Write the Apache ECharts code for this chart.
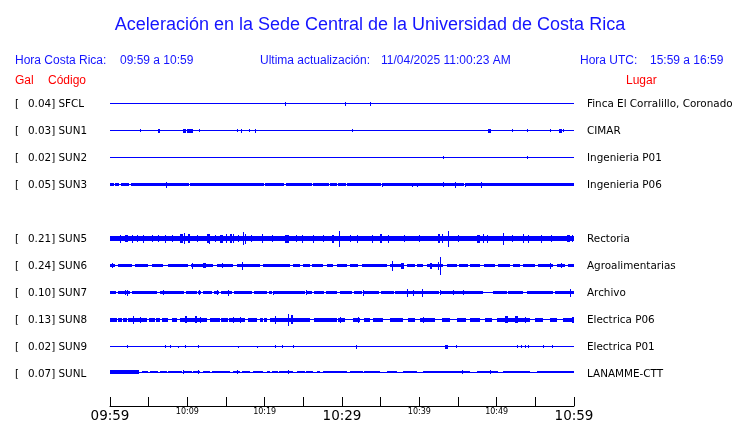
<!DOCTYPE html>
<html><head><meta charset="utf-8">
<script src="https://cdn.jsdelivr.net/npm/echarts@6/dist/echarts.min.js"></script>
<style>html,body{margin:0;padding:0;background:#fff}#c{width:740px;height:423px}</style>
</head><body><div id="c"></div>
<script>
// ---- data ----
const titleText = 'Aceleración en la Sede Central de la Universidad de Costa Rica';
const headerLabels = ['Hora Costa Rica:', 'Ultima actualización:', 'Hora UTC:'];
const headerValues = ['09:59 a 10:59', '11/04/2025 11:00:23 AM', '15:59 a 16:59'];
const tickLabels = ['09:59','10:04','10:09','10:14','10:19','10:24','10:29','10:34','10:39','10:44','10:49','10:54','10:59'];
const codes = ['SFCL','SUN1','SUN2','SUN3','SUN5','SUN6','SUN7','SUN8','SUN9','SUNL'];
const peaks = ['0.04','0.03','0.02','0.05','0.21','0.24','0.10','0.13','0.02','0.07'];
const places = ['Finca El Corralillo, Coronado','CIMAR','Ingenieria P01','Ingenieria P06','Rectoria','Agroalimentarias','Archivo','Electrica P06','Electrica P01','LANAMME-CTT'];
// background noise half-amplitude of each trace
const noise = [0.5,0.5,0.5,1.5,2.5,1.3,1.3,2,0.5,1.5];
// quiet stretches [start min, end min]
const sfclGaps = [];
const sun1Gaps = [];
const sun2Gaps = [];
const sun3Gaps = [[0.5,0.7],[1.2,1.4],[2.5,2.7],[10.2,10.4],[19.9,20.1],[22.5,22.7],[26.1,26.3],[28.3,28.5],[29.3,29.5],[30.5,30.7],[35.0,35.2],[39.0,39.2],[45.8,46.0]];
const sun5Gaps = [];
const sun6Gaps = [[0.6,1.0],[2.8,3.2],[4.9,5.4],[6.9,7.5],[10.1,10.5],[13.3,13.8],[15.9,16.4],[19.4,19.8],[23.3,23.7],[24.6,25.0],[25.9,26.1],[27.5,28.1],[28.8,29.4],[30.6,31.0],[32.1,32.6],[35.8,36.2],[37.9,38.4],[39.4,39.7],[40.5,41.0],[43.1,43.6],[44.9,45.1],[46.3,46.6],[47.8,48.4],[49.8,50.2],[51.7,52.1],[53.0,53.4],[55.0,55.4],[57.3,57.8],[58.8,59.2]];
const sun7Gaps = [[0.8,1.0],[2.6,2.9],[6.1,6.5],[9.6,9.8],[11.2,11.4],[11.8,12.0],[13.2,13.4],[14.1,14.3],[15.8,16.0],[18.4,18.6],[20.3,20.5],[20.9,21.2],[25.2,25.4],[26.1,26.4],[27.7,27.9],[29.3,29.8],[31.3,31.5],[32.6,32.8],[34.8,35.0],[36.7,36.9],[42.6,42.8],[45.6,45.8],[48.2,49.5],[51.3,51.5],[53.4,53.9],[57.3,57.6]];
const sun8Gaps = [[0.9,1.0],[1.6,1.7],[2.2,2.3],[3.9,4.0],[4.8,5.0],[5.8,5.9],[6.5,6.7],[7.5,8.0],[8.7,9.1],[12.5,12.9],[14.2,14.3],[15.3,15.4],[17.5,17.9],[19.0,19.4],[19.8,19.9],[20.3,20.7],[25.9,26.4],[29.3,29.5],[30.4,31.4],[32.3,32.9],[33.6,34.0],[35.3,36.2],[37.9,38.5],[39.4,40.1],[42.0,42.9],[44.0,44.9],[46.0,46.6],[47.8,48.5],[49.4,50.0],[54.3,55.0],[56.0,56.9],[57.8,58.6]];
const sun9Gaps = [];
const sunlGaps = [[3.6,4.1],[4.9,5.2],[6.2,6.5],[7.4,7.5],[9.3,9.4],[10.6,10.7],[11.6,12.0],[12.9,13.2],[15.5,15.9],[16.8,17.1],[18.1,18.5],[19.8,20.3],[20.7,21.0],[21.7,21.8],[23.7,24.2],[25.2,25.4],[26.2,26.8],[27.2,27.5],[28.8,28.9],[30.6,31.0],[32.7,32.8],[34.9,35.8],[37.1,37.9],[39.7,40.5],[46.6,47.5],[50.2,50.8],[54.3,55.2]];
// bursts [time min, half-amplitude, duration min]
const sfclBursts = [[22.6,2],[30.4,2],[33.6,2]];
const sun1Bursts = [[3.9,1.5],[6.2,2,0.3],[9.4,2,0.4],[10.0,2,0.3],[10.4,2,0.3],[11.5,1.5],[16.4,1.5],[16.9,2],[18.0,1.5],[18.7,2],[31.3,1.5],[48.9,2,0.4],[52.0,1.5],[53.9,1.5],[56.9,1.5],[58.1,2,0.3],[58.6,1.5]];
const sun2Bursts = [[43.1,1.5],[53.9,1.5]];
const sun3Bursts = [[7.2,3],[35.2,2],[39.1,2],[39.7,2],[43.1,2.5],[44.6,3],[45.9,2],[48.0,3]];
const sun5Bursts = [[1.3,4],[2.0,3.5,0.3],[2.8,4],[3.5,3.5],[4.3,4],[5.4,3.5],[6.2,3.5],[7.1,4],[8.0,3.5],[9.1,4.5,0.4],[9.6,5.5],[10.1,4.5,0.3],[11.2,3.5],[12.5,4.5,0.3],[12.8,5],[13.6,3.5],[14.2,4,0.4],[15.0,4.5],[15.5,4.5,0.3],[15.9,4.5],[16.5,3.5],[17.2,6.5],[17.5,5],[18.2,3.5],[19.7,4.5],[21.0,3.5],[22.6,4,0.4],[23.0,4],[24.0,3.5],[24.8,4],[26.2,4],[27.5,3.5],[28.7,4,0.3],[29.6,8],[31.0,3.5],[32.0,4],[33.9,4],[34.9,4.5,0.3],[36.0,4],[38.0,3.5],[40.0,3.5],[42.4,4.5,0.3],[42.9,4.5],[43.7,8],[45.0,3.5],[47.5,4,0.3],[48.2,4.5],[48.7,4],[50.8,6],[52.0,3.5],[53.4,4.5],[54.0,4],[55.7,4],[57.0,3.5],[59.1,3.5,0.4],[59.7,3.5]];
const sun6Bursts = [[0.3,2.5],[10.6,3],[12.0,2.5,0.4],[14.5,2.5],[17.1,4],[36.5,5],[37.6,3,0.4],[41.4,3,0.3],[42.4,4],[42.7,9],[56.9,3],[58.3,2.5]];
const sun7Bursts = [[1.9,2.5],[2.2,3],[6.9,2.5],[11.5,2.5],[13.8,2.5],[15.3,3],[21.1,2],[25.3,2.5],[32.7,3],[38.4,4],[39.2,3],[40.3,4],[42.7,2.5],[44.3,2.5],[45.6,2.5],[59.5,4]];
const sun8Bursts = [[3.0,4],[3.9,3],[9.7,3.5,0.3],[11.0,3.5,0.3],[11.6,3],[15.9,3],[16.8,3],[21.3,4],[23.0,6],[23.4,4.5,0.3],[29.7,3],[32.1,3],[40.5,3],[51.1,3.5,0.4],[52.4,3.5,0.4],[53.7,3],[59.7,3,0.3]];
const sun9Bursts = [[2.2,1.5],[7.1,1.5],[7.8,1.5],[8.8,1],[9.7,1.5],[11.4,1.5],[16.6,1],[19.0,1],[21.3,1.5],[22.2,1.5],[23.7,1.5],[31.8,2,0.2],[43.3,2,0.4],[44.7,1.5],[52.6,1.5],[53.1,1.5],[53.7,1.5],[54.0,1.5],[56.0,1.5],[57.1,1.5]];
const sunlBursts = [[0,2,3.6],[3.6,2.5],[9.4,2],[11.4,2.5],[16.4,2],[23.0,2],[45.5,2.5],[49.1,2.5]];

const gapsList = [sfclGaps,sun1Gaps,sun2Gaps,sun3Gaps,sun5Gaps,sun6Gaps,sun7Gaps,sun8Gaps,sun9Gaps,sunlGaps];
const burstList = [sfclBursts,sun1Bursts,sun2Bursts,sun3Bursts,sun5Bursts,sun6Bursts,sun7Bursts,sun8Bursts,sun9Bursts,sunlBursts];

// ---- layout ----
const TRACE = '#0000ff', TXT = '#1414ff', RED = '#ff0000';
const ROW_TOP0 = 90, ROW_H = 27, LEFT = 110, WIDTH = 464;
const slotOf = i => (i < 4 ? i : i + 1); // SUN4 row left empty
const LBL_FONT = 10.4;

function buildData(i) {
  const out = [];
  const g = gapsList[i].slice().sort((a,b)=>a[0]-b[0]);
  let t = 0;
  g.forEach(([a,b]) => {
    if (a > t) out.push([t, a, noise[i]]);
    out.push([a, b, 0.5]);
    t = b;
  });
  if (t < 60) out.push([t, 60, noise[i]]);
  burstList[i].forEach(b => out.push([b[0], b[0] + (b[2] || 0), b[1]]));
  return out;
}

function renderItem(params, api) {
  const t0 = api.value(0), t1 = api.value(1), a = api.value(2);
  const p0 = api.coord([t0, a]);
  const p1 = api.coord([t1, -a]);
  const x0 = Math.round(p0[0]);
  const x1 = Math.max(Math.round(p1[0]), x0 + 1);
  const y0 = Math.round(p0[1]);
  const y1 = Math.max(Math.round(p1[1]), y0 + 1);
  return { type: 'rect', shape: { x: x0, y: y0, width: x1 - x0, height: y1 - y0 }, style: { fill: TRACE } };
}

const grids = [], xAxes = [], yAxes = [], series = [], graphics = [];
codes.forEach((c, i) => {
  const top = ROW_TOP0 + slotOf(i) * ROW_H;
  const last = i === codes.length - 1;
  grids.push({ left: LEFT, width: WIDTH, top: top, height: ROW_H });
  xAxes.push({
    gridIndex: i, type: 'value', min: 0, max: 60, interval: 5, show: last,
    position: 'bottom', offset: last ? 22 : 0,
    axisLine: { show: true, onZero: false, lineStyle: { color: '#000', width: 1 } },
    axisTick: { show: true, inside: true, length: 9, lineStyle: { color: '#000' } },
    splitLine: { show: false },
    axisLabel: {
      show: true, margin: 2, showMinLabel: true, showMaxLabel: true,
      formatter: v => {
        const k = Math.round(v / 5);
        if (k % 6 === 0) return '{b|' + tickLabels[k] + '}';
        if (k % 2 === 0) return '{s|' + tickLabels[k] + '}';
        return '';
      },
      rich: {
        b: { fontFamily: 'DejaVu Sans', fontSize: 13.5, color: '#000', padding: [1,0,0,0] },
        s: { fontFamily: 'DejaVu Sans', fontSize: 8, color: '#000', padding: [0,0,2,0] }
      }
    }
  });
  yAxes.push({ gridIndex: i, type: 'value', min: -13.5, max: 13.5, show: false });
  series.push({ type: 'custom', name: c, xAxisIndex: i, yAxisIndex: i, renderItem: renderItem, data: buildData(i), clip: false, silent: true });
  const cy = top + ROW_H / 2 + 1;
  graphics.push({ type: 'text', x: 15, y: cy, style: { text: '[', fontFamily: 'DejaVu Sans', fontSize: LBL_FONT, fill: '#000', verticalAlign: 'middle' } });
  graphics.push({ type: 'text', x: 28, y: cy, style: { text: peaks[i] + '] ' + c, fontFamily: 'DejaVu Sans', fontSize: LBL_FONT, fill: '#000', verticalAlign: 'middle' } });
  graphics.push({ type: 'text', x: 587, y: cy, style: { text: places[i], fontFamily: 'DejaVu Sans', fontSize: LBL_FONT, fill: '#000', verticalAlign: 'middle' } });
});

const hx = [[15, 120], [260, 381], [580, 650]];
headerLabels.forEach((h, k) => {
  graphics.push({ type: 'text', x: hx[k][0], y: 60.5, style: { text: h, fontFamily: 'Liberation Sans', fontSize: 12, fill: TXT, verticalAlign: 'middle' } });
  graphics.push({ type: 'text', x: hx[k][1], y: 60.5, style: { text: headerValues[k], fontFamily: 'Liberation Sans', fontSize: 12, fill: TXT, verticalAlign: 'middle' } });
});
graphics.push({ type: 'text', x: 15, y: 80.5, style: { text: 'Gal', fontFamily: 'Liberation Sans', fontSize: 12, fill: RED, verticalAlign: 'middle' } });
graphics.push({ type: 'text', x: 48, y: 80.5, style: { text: 'Código', fontFamily: 'Liberation Sans', fontSize: 12, fill: RED, verticalAlign: 'middle' } });
graphics.push({ type: 'text', x: 626, y: 80.5, style: { text: 'Lugar', fontFamily: 'Liberation Sans', fontSize: 12, fill: RED, verticalAlign: 'middle' } });

const chart = echarts.init(document.getElementById('c'), null, { renderer: 'canvas' });
chart.setOption({
  animation: false,
  backgroundColor: '#fff',
  title: { text: titleText, left: 'center', top: 11, textStyle: { fontFamily: 'Liberation Sans', fontSize: 18, fontWeight: 'normal', color: TXT } },
  grid: grids, xAxis: xAxes, yAxis: yAxes, series: series, graphic: graphics
});
</script></body></html>
